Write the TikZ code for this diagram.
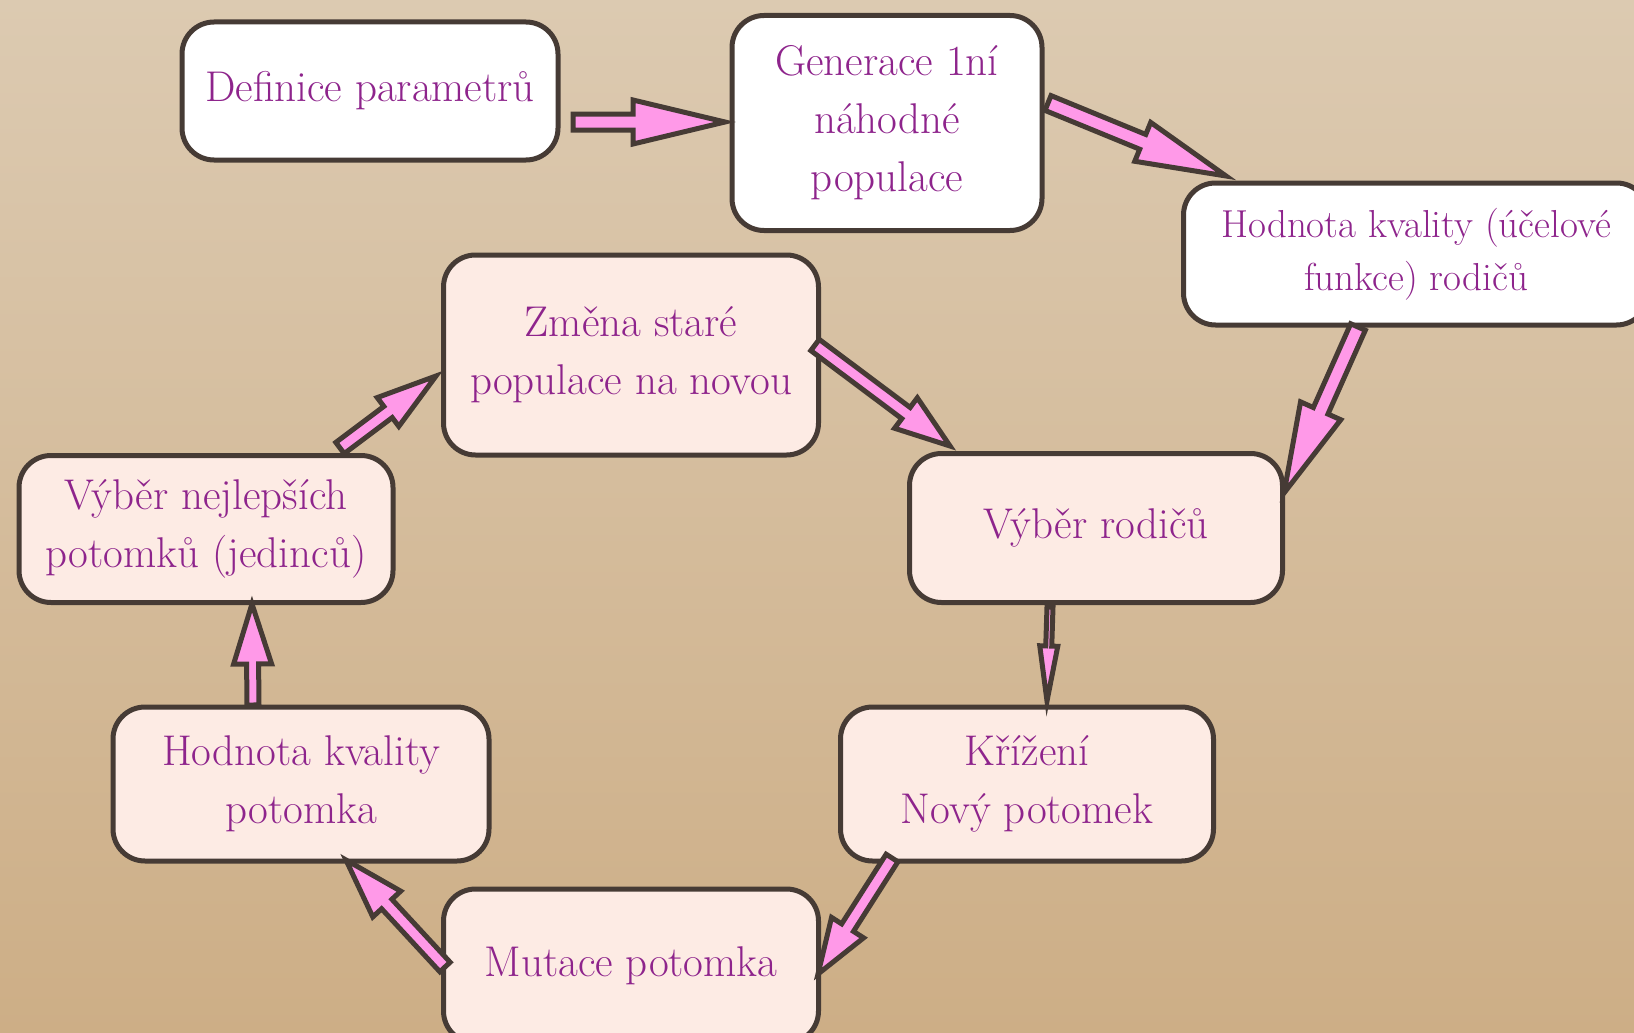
\documentclass[tikz,border=0pt]{standalone}
\usetikzlibrary{calc}
\definecolor{bgtop}{HTML}{DCCAB1}
\definecolor{bgmid}{HTML}{D6C1A4}
\definecolor{bgbot}{HTML}{CDAE86}
\definecolor{txt}{HTML}{8E248C}
\definecolor{boxfill}{HTML}{FDEBE4}
\definecolor{edge}{HTML}{463B35}
\definecolor{arrowpink}{HTML}{FF99E8}
\tikzset{
  box/.style={draw=edge, line width=5pt, rounded corners=32pt, fill=boxfill, text=txt,
    align=center, inner sep=0pt, font=\fontsize{43}{58}\selectfont},
  whitebox/.style={box, fill=white},
  barrow/.style={draw=edge, fill=arrowpink, line width=5pt, line join=miter},
}
% #1 tail, #2 tip, #3 shaft half width, #4 head half width, #5 head length
\newcommand\blockarrow[5]{%
  \path (#1) coordinate (ba-t) (#2) coordinate (ba-h);
  \path ($(ba-h)!#5!(ba-t)$) coordinate (ba-b);
  \draw[barrow] ($(ba-t)!#3!90:(ba-h)$) -- ($(ba-b)!#3!-90:(ba-t)$) -- ($(ba-b)!#4!-90:(ba-t)$)
    -- (ba-h) -- ($(ba-b)!#4!90:(ba-t)$) -- ($(ba-b)!#3!90:(ba-t)$) -- ($(ba-t)!#3!-90:(ba-h)$) -- cycle;
}
\begin{document}
\begin{tikzpicture}[x=1pt, y=-1pt]
\useasboundingbox (0,0) rectangle (1634,1033);
\clip (0,0) rectangle (1634,1033);
\shade[top color=bgtop, middle color=bgmid, bottom color=bgbot] (0,0) rectangle (1634,1033);

\node[whitebox, minimum width=376pt, minimum height=138pt] (n1) at (370,91) {Definice parametrů};
\node[whitebox, minimum width=310pt, minimum height=215pt] (n2) at (887,123) {Generace 1ní\\náhodné\\populace};
\node[whitebox, minimum width=465pt, minimum height=142pt, font=\fontsize{39}{53}\selectfont] (n3) at (1416,254) {Hodnota kvality (účelové\\funkce) rodičů};
\node[box, minimum width=375pt, minimum height=200pt] (n4) at (631,355) {Změna staré\\populace na novou};
\node[box, minimum width=373pt, minimum height=149pt] (n5) at (1096,528) {Výběr rodičů};
\node[box, minimum width=374pt, minimum height=147pt] (n6) at (206,529) {Výběr nejlepších\\potomků (jedinců)};
\node[box, minimum width=376pt, minimum height=154pt] (n7) at (301,784) {Hodnota kvality\\potomka};
\node[box, minimum width=373pt, minimum height=154pt] (n8) at (1027,784) {Křížení\\Nový potomek};
\node[box, minimum width=375pt, minimum height=154pt] (n9) at (631,966) {Mutace potomka};

\blockarrow{$(n1)+(203,31)$}{$(n2)+(-162,-1)$}{8pt}{22pt}{92pt}
\blockarrow{$(n2)+(161,-20)$}{$(n3)+(-190,-78)$}{8pt}{21pt}{90pt}
\blockarrow{$(n3)+(-58,73)$}{$(n5)+(188,-35)$}{8pt}{22pt}{90pt}
\blockarrow{$(n4)+(184,-10)$}{$(n5)+(-146,-82)$}{7pt}{19pt}{55pt}
\blockarrow{$(n6)+(134,-81)$}{$(n4)+(-195,21)$}{7pt}{18pt}{60pt}
\blockarrow{$(n5)+(-46,79)$}{$(n8)+(20,-83)$}{3pt}{9pt}{55pt}
\blockarrow{$(n8)+(-135,74)$}{$(n9)+(187,8)$}{7pt}{19pt}{55pt}
\blockarrow{$(n9)+(-186,1)$}{$(n7)+(45,76)$}{7pt}{19pt}{60pt}
\blockarrow{$(n7)+(-48,-79)$}{$(n6)+(46,75)$}{6pt}{19pt}{60pt}
\end{tikzpicture}
\end{document}
